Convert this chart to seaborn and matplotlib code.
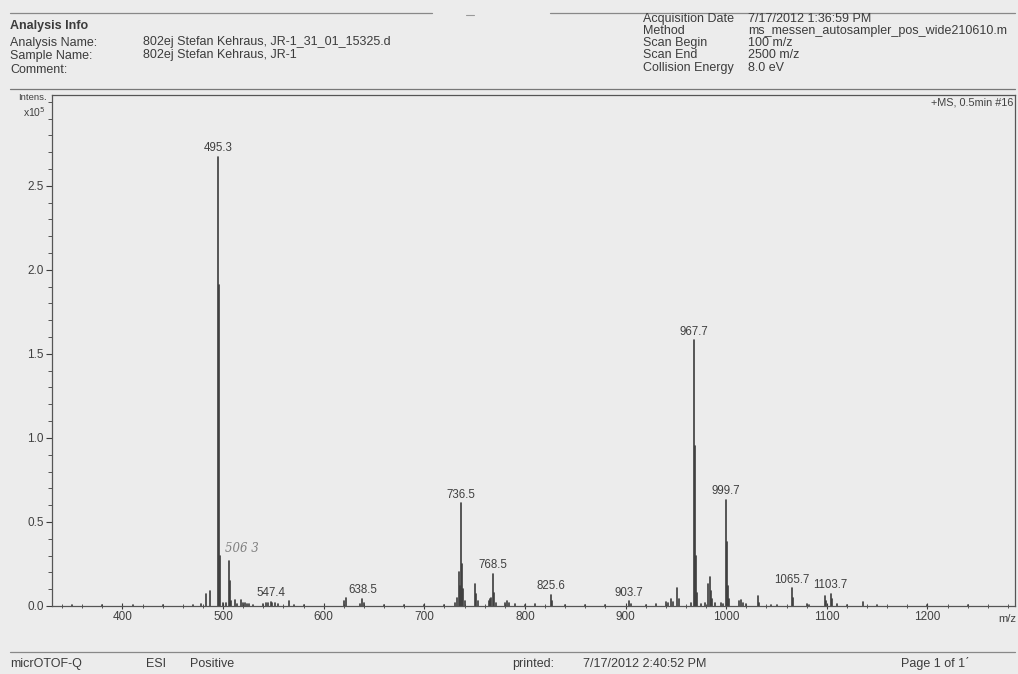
import numpy as np
import pandas as pd
import matplotlib
matplotlib.use("Agg")
import matplotlib.pyplot as plt
import seaborn as sns

# ---------------- data ----------------
mz = [470, 478, 483.3, 487.3, 495.3, 496.3, 497.3, 500.3, 503.0, 506.3, 507.3, 508.3,
      512.3, 514.0, 518.3, 520.3, 522.0, 524.0, 526.0, 530.0,
      540.0, 543.0, 545.0, 547.4, 549.0, 552.0, 555.0, 565.3, 570.0, 580.0,
      620.5, 622.5, 636.0, 638.5, 640.0, 660.0, 680.0,
      700.0, 720.0, 730.0, 732.5, 734.5, 735.5, 736.5, 737.5, 738.5, 740.0,
      750.5, 751.5, 753.0, 764.0, 765.5, 766.5, 768.5, 769.5, 771.0,
      780.0, 782.0, 784.0, 790.0, 800.0, 810.0, 825.6, 826.6, 840.0, 860.0, 880.0,
      903.7, 905.0, 920.0, 930.0, 940.0, 942.0, 945.5, 947.0, 951.6, 953.0,
      965.0, 967.7, 968.7, 969.7, 970.7, 975.0, 979.0, 981.6, 983.6, 984.6, 986.0, 989.0,
      995.0, 997.0, 999.7, 1000.7, 1001.7, 1003.0, 1013.0, 1015.0, 1017.0, 1020.0,
      1031.6, 1033.0, 1045.0, 1050.0, 1065.7, 1066.7, 1080.0, 1082.0,
      1097.7, 1098.7, 1103.7, 1104.7, 1110.0, 1120.0, 1135.7, 1150.0, 1200.0, 1240.0,
      350.0, 380.0, 410.0, 440.0]
intensity = [0.005, 0.01, 0.07, 0.09, 2.67, 1.91, 0.30, 0.02, 0.015, 0.27, 0.15, 0.03,
             0.035, 0.01, 0.035, 0.02, 0.015, 0.01, 0.01, 0.008,
             0.01, 0.02, 0.02, 0.025, 0.02, 0.015, 0.01, 0.03, 0.008, 0.006,
             0.03, 0.045, 0.01, 0.04, 0.015, 0.008, 0.005,
             0.006, 0.008, 0.02, 0.05, 0.20, 0.12, 0.61, 0.25, 0.10, 0.03,
             0.13, 0.07, 0.03, 0.03, 0.04, 0.05, 0.19, 0.08, 0.02,
             0.02, 0.03, 0.02, 0.01, 0.008, 0.01, 0.065, 0.03, 0.008, 0.006, 0.005,
             0.028, 0.01, 0.008, 0.01, 0.025, 0.02, 0.04, 0.025, 0.11, 0.04,
             0.02, 1.58, 0.95, 0.30, 0.08, 0.01, 0.02, 0.13, 0.17, 0.09, 0.04, 0.02,
             0.02, 0.01, 0.63, 0.38, 0.12, 0.04, 0.03, 0.035, 0.02, 0.01,
             0.06, 0.02, 0.008, 0.006, 0.105, 0.05, 0.01, 0.008,
             0.06, 0.03, 0.07, 0.04, 0.01, 0.008, 0.025, 0.005, 0.006, 0.005,
             0.004, 0.005, 0.004, 0.005]

label_mz = [495.3, 547.4, 638.5, 736.5, 768.5, 825.6, 903.7, 967.7, 999.7, 1065.7, 1103.7]
label_text = ["495.3", "547.4", "638.5", "736.5", "768.5", "825.6", "903.7",
              "967.7", "999.7", "1065.7", "1103.7"]

x_ticks = [400, 500, 600, 700, 800, 900, 1000, 1100, 1200]
y_ticks = [0.0, 0.5, 1.0, 1.5, 2.0, 2.5]

# ---------------- style ----------------
BG = "#ececec"
INK = "#3c3c3c"
sns.set_theme(style="ticks")
plt.rcParams["font.family"] = ["Liberation Sans", "DejaVu Sans"]
plt.rcParams["axes.facecolor"] = BG
plt.rcParams["figure.facecolor"] = BG

W, H = 1018, 674
fig = plt.figure(figsize=(W / 100, H / 100), dpi=100)
fig.patch.set_facecolor(BG)


def fx(x):
    return x / W


def fy(y):
    return 1 - y / H


ax = fig.add_axes([fx(52), fy(606), fx(1015) - fx(52), fy(95) - fy(606)])
ax.set_facecolor(BG)

rows = []
for i, (m, h) in enumerate(zip(mz, intensity)):
    rows.append({"mz": m, "intensity": 0.0, "peak": i})
    rows.append({"mz": m, "intensity": h, "peak": i})
df = pd.DataFrame(rows)
sns.lineplot(data=df, x="mz", y="intensity", units="peak", estimator=None,
             sort=False, color=INK, linewidth=1.2, legend=False, ax=ax)

ax.set_xlim(330, 1287)
ax.set_ylim(0, 3.04)
ax.set_xticks(x_ticks)
ax.set_xticklabels([str(t) for t in x_ticks])
ax.set_yticks(y_ticks)
ax.set_yticklabels([f"{t:.1f}" for t in y_ticks])
ax.set_xticks(np.arange(340, 1287, 20), minor=True)
ax.set_yticks(np.arange(0.1, 3.01, 0.1), minor=True)
ax.tick_params(axis="y", which="major", direction="out", length=4, width=0.8,
               color=INK, labelsize=8.5, labelcolor="#404040", pad=2)
ax.tick_params(axis="y", which="minor", direction="out", length=3, width=0.6,
               color=INK)
ax.tick_params(axis="x", which="major", direction="inout", length=5, width=0.8,
               color=INK, labelsize=8.5, labelcolor="#404040", pad=1)
ax.tick_params(axis="x", which="minor", direction="inout", length=3.5, width=0.6,
               color=INK)
ax.set_xlabel("")
ax.set_ylabel("")
for s in ax.spines.values():
    s.set_color("#555555")
    s.set_linewidth(0.9)
    s.set_visible(True)

# peak labels
lookup = dict(zip(mz, intensity))
for m, t in zip(label_mz, label_text):
    ax.annotate(t, xy=(m, lookup[m]), xytext=(0, 2), textcoords="offset points",
                ha="center", va="bottom", fontsize=8.3, color="#404040")

# handwritten note
ax.annotate("506 3", xy=(506.3, 0.27), xytext=(9, 4), textcoords="offset points",
            ha="center", va="bottom", fontsize=8.5, color="#808080",
            style="italic", family="DejaVu Serif")

ax.text(0.998, 0.995, "+MS, 0.5min #16", transform=ax.transAxes, ha="right",
        va="top", fontsize=7.8, color="#404040")

# axis annotations
fig.text(fx(47), fy(98), "Intens.", ha="right", va="center", fontsize=6.8, color="#404040")
fig.text(fx(46), fy(112), r"x10$^5$", ha="right", va="center", fontsize=7.5, color="#404040")
fig.text(fx(1007), fy(619), "m/z", ha="center", va="center", fontsize=8, color="#404040")

# ---------------- header ----------------
fs = 9
fig.add_artist(plt.Line2D([fx(10), fx(432)], [fy(13), fy(13)], color="#888888", lw=0.9))
fig.add_artist(plt.Line2D([fx(550), fx(1015)], [fy(13), fy(13)], color="#888888", lw=0.9))
fig.add_artist(plt.Line2D([fx(466), fx(474)], [fy(15), fy(15)], color="#999999", lw=0.8))
fig.add_artist(plt.Line2D([fx(10), fx(1015)], [fy(89), fy(89)], color="#777777", lw=0.9))

fig.text(fx(10), fy(26), "Analysis Info", ha="left", va="center", fontsize=fs,
         fontweight="bold", color=INK)
left_labels = ["Analysis Name:", "Sample Name:", "Comment:"]
left_values = ["802ej Stefan Kehraus, JR-1_31_01_15325.d", "802ej Stefan Kehraus, JR-1", ""]
left_y = [43, 56, 70]
for lab, val, y in zip(left_labels, left_values, left_y):
    fig.text(fx(10), fy(y), lab, ha="left", va="center", fontsize=fs, color=INK)
    fig.text(fx(143), fy(y - 1), val, ha="left", va="center", fontsize=fs, color=INK)

right_labels = ["Acquisition Date", "Method", "Scan Begin", "Scan End", "Collision Energy"]
right_values = ["7/17/2012 1:36:59 PM", "ms_messen_autosampler_pos_wide210610.m",
                "100 m/z", "2500 m/z", "8.0 eV"]
right_y = [19, 31, 43, 55, 68]
for lab, val, y in zip(right_labels, right_values, right_y):
    fig.text(fx(643), fy(y), lab, ha="left", va="center", fontsize=fs, color=INK)
    fig.text(fx(748), fy(y), val, ha="left", va="center", fontsize=fs, color=INK)

# ---------------- footer ----------------
fig.add_artist(plt.Line2D([fx(10), fx(1015)], [fy(652), fy(652)], color="#888888", lw=0.9))
footer = [(10, "micrOTOF-Q"), (146, "ESI"), (190, "Positive"), (512, "printed:"),
          (583, "7/17/2012 2:40:52 PM"), (901, "Page 1 of 1\u02ca")]
for x, t in footer:
    fig.text(fx(x), fy(664), t, ha="left", va="center", fontsize=fs, color=INK)

fig.savefig("out.png", dpi=100, facecolor=BG)
